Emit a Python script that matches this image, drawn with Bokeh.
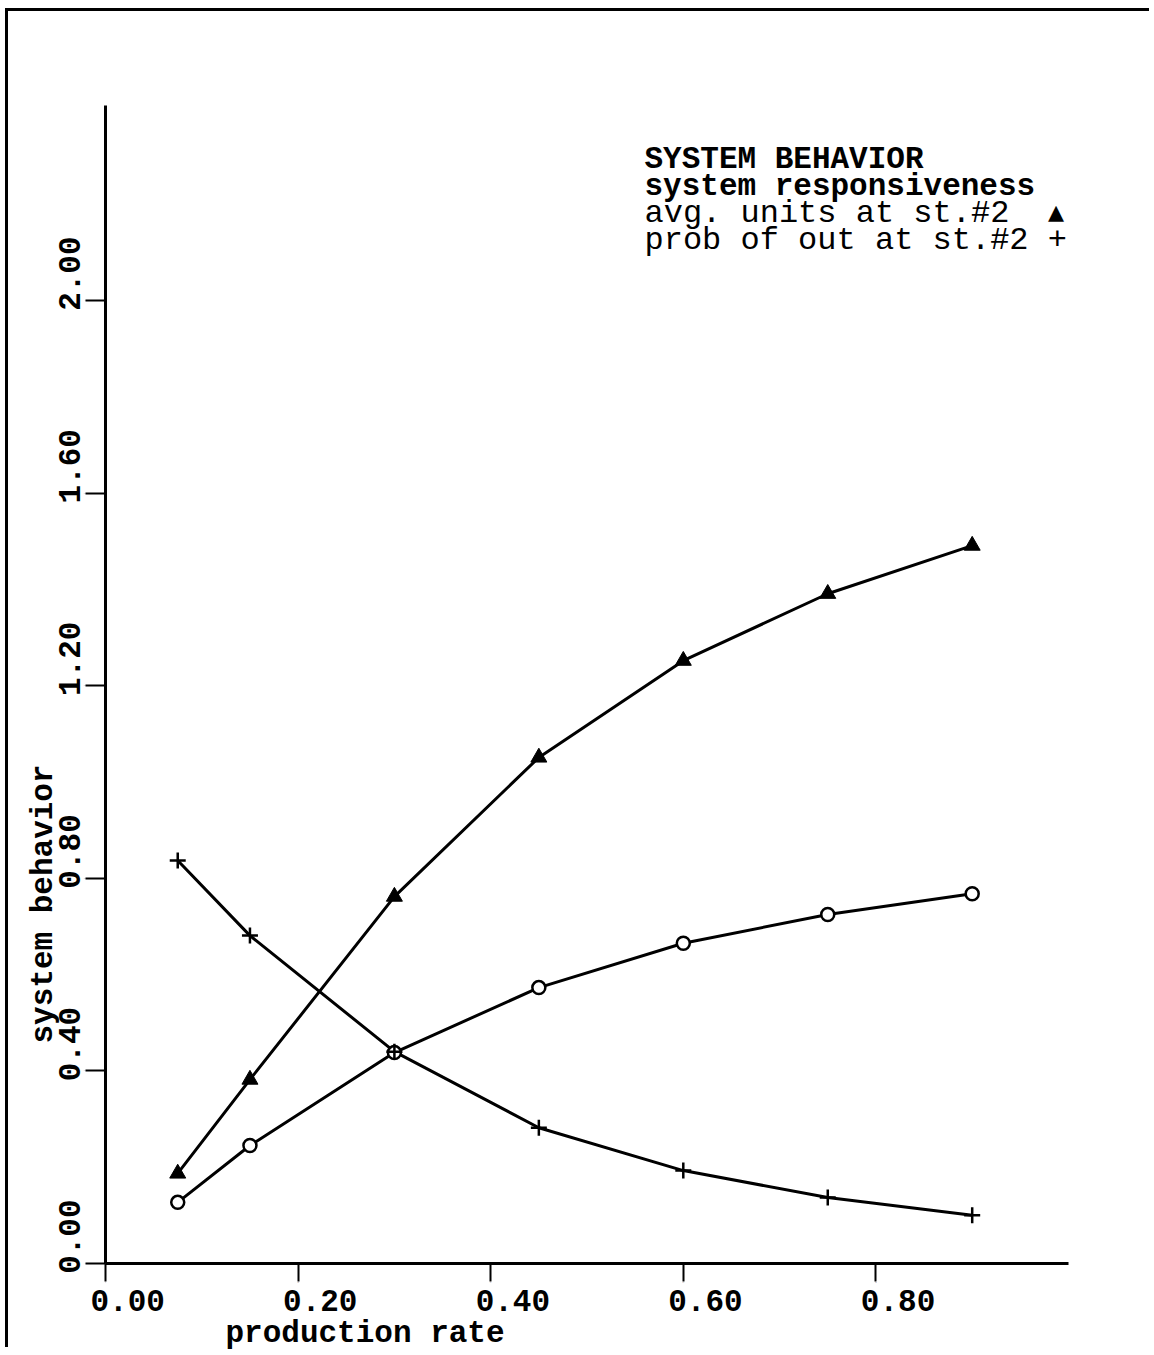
from math import pi
from bokeh.plotting import figure
from bokeh.models import LinearAxis, FixedTicker, Range1d, Label, Title, CustomJSTickFormatter
from bokeh.embed import file_html
from bokeh.resources import INLINE

# ---- data ----
rate = [0.075, 0.15, 0.30, 0.45, 0.60, 0.75, 0.90]
avg_units = [0.187, 0.382, 0.762, 1.051, 1.252, 1.391, 1.491]
responsiveness = [0.127, 0.245, 0.438, 0.573, 0.665, 0.725, 0.768]
prob_out = [0.837, 0.681, 0.440, 0.282, 0.193, 0.137, 0.100]

x_ticks = [0.0, 0.2, 0.4, 0.6, 0.8]
x_tick_labels = ["0.00", "0.20", "0.40", "0.60", "0.80"]
y_ticks = [0.0, 0.4, 0.8, 1.2, 1.6, 2.0]
y_tick_labels = ["0.00", "0.40", "0.80", "1.20", "1.60", "2.00"]

x_title = "production rate"
y_title = "system behavior"
legend_lines = ["SYSTEM BEHAVIOR", "system responsiveness",
                "avg. units at st.#2\u00a0\u00a0\u25b4", "prob of out at st.#2\u00a0+"]

FONT = "Liberation Mono"
FS = "31px"

p = figure(frame_width=963, frame_height=1158,
           x_range=Range1d(0, 1.0), y_range=Range1d(0, 2.405),
           x_axis_location=None, y_axis_location=None,
           toolbar_location=None, output_backend="svg",
           min_border_left=97, min_border_top=94,
           min_border_right=84, min_border_bottom=85)
p.outline_line_color = None
p.xgrid.visible = False
p.ygrid.visible = False
p.background_fill_color = "white"
p.border_fill_color = "white"

# tick-mark axes
yax = LinearAxis(ticker=FixedTicker(ticks=y_ticks, minor_ticks=[]),
                 major_tick_out=20, major_tick_in=0,
                 axis_line_width=3, major_tick_line_width=2,
                 major_label_text_font_size="1px", major_label_standoff=0)
p.add_layout(yax, "left")
xax = LinearAxis(ticker=FixedTicker(ticks=x_ticks, minor_ticks=[]),
                 major_tick_out=18, major_tick_in=0,
                 axis_line_width=3, major_tick_line_width=2,
                 major_label_text_font_size="1px", major_label_standoff=0)
p.add_layout(xax, "below")

# label axes (labels begin at the tick, as in the typewriter original)
y_shift = 0.133
ylab = LinearAxis(ticker=FixedTicker(ticks=[v + y_shift for v in y_ticks], minor_ticks=[]),
                  formatter=CustomJSTickFormatter(args=dict(labels=y_tick_labels),
                                                  code="return labels[index]"),
                  axis_line_color=None, major_tick_line_color=None,
                  major_tick_out=0, major_tick_in=0, major_label_standoff=12,
                  major_label_orientation=pi / 2,
                  major_label_text_font=FONT, major_label_text_font_size=FS,
                  major_label_text_font_style="bold", major_label_text_color="black")
p.add_layout(ylab, "left")
x_shift = 0.023
xlab = LinearAxis(ticker=FixedTicker(ticks=[v + x_shift for v in x_ticks], minor_ticks=[]),
                  formatter=CustomJSTickFormatter(args=dict(labels=x_tick_labels),
                                                  code="return labels[index]"),
                  axis_line_color=None, major_tick_line_color=None,
                  major_tick_out=0, major_tick_in=0, major_label_standoff=4,
                  major_label_text_font=FONT, major_label_text_font_size=FS,
                  major_label_text_font_style="bold", major_label_text_color="black")
p.add_layout(xlab, "below")

# axis titles
p.add_layout(Title(text=x_title, align="left", offset=120, standoff=0,
                   text_font=FONT, text_font_size=FS, text_font_style="bold",
                   text_color="black"), "below")
p.add_layout(Title(text=y_title, align="left", offset=220, standoff=-30,
                   text_font=FONT, text_font_size=FS, text_font_style="bold",
                   text_color="black"), "left")

# series
for ys in (avg_units, responsiveness, prob_out):
    p.line(rate, ys, line_color="black", line_width=3)
p.scatter(rate, avg_units, marker="triangle", size=16, fill_color="black", line_color="black")
p.scatter(rate, responsiveness, marker="circle", size=13, fill_color="white",
          line_color="black", line_width=2.5)
p.scatter(rate, prob_out, marker="cross", size=16, line_color="black", line_width=2.5)

# legend block
legend_y = [2.293, 2.237, 2.181, 2.124]
styles = ["bold", "bold", "normal", "normal"]
sizes = ["31px", "31px", "32px", "32px"]
for txt, yy, st, fs in zip(legend_lines, legend_y, styles, sizes):
    p.add_layout(Label(x=0.5597, y=yy, text=txt, text_font=FONT, text_font_size=fs,
                       text_font_style=st, text_color="black",
                       text_align="left", text_baseline="alphabetic"))

# page edge of the scanned sheet (top and left rules)
p.styles = {"margin-top": "11px", "margin-left": "8px", "margin-bottom": "-30px",
            "box-shadow": "-3px -3px 0 0 black"}

open("out.html", "w").write(file_html(p, INLINE))
